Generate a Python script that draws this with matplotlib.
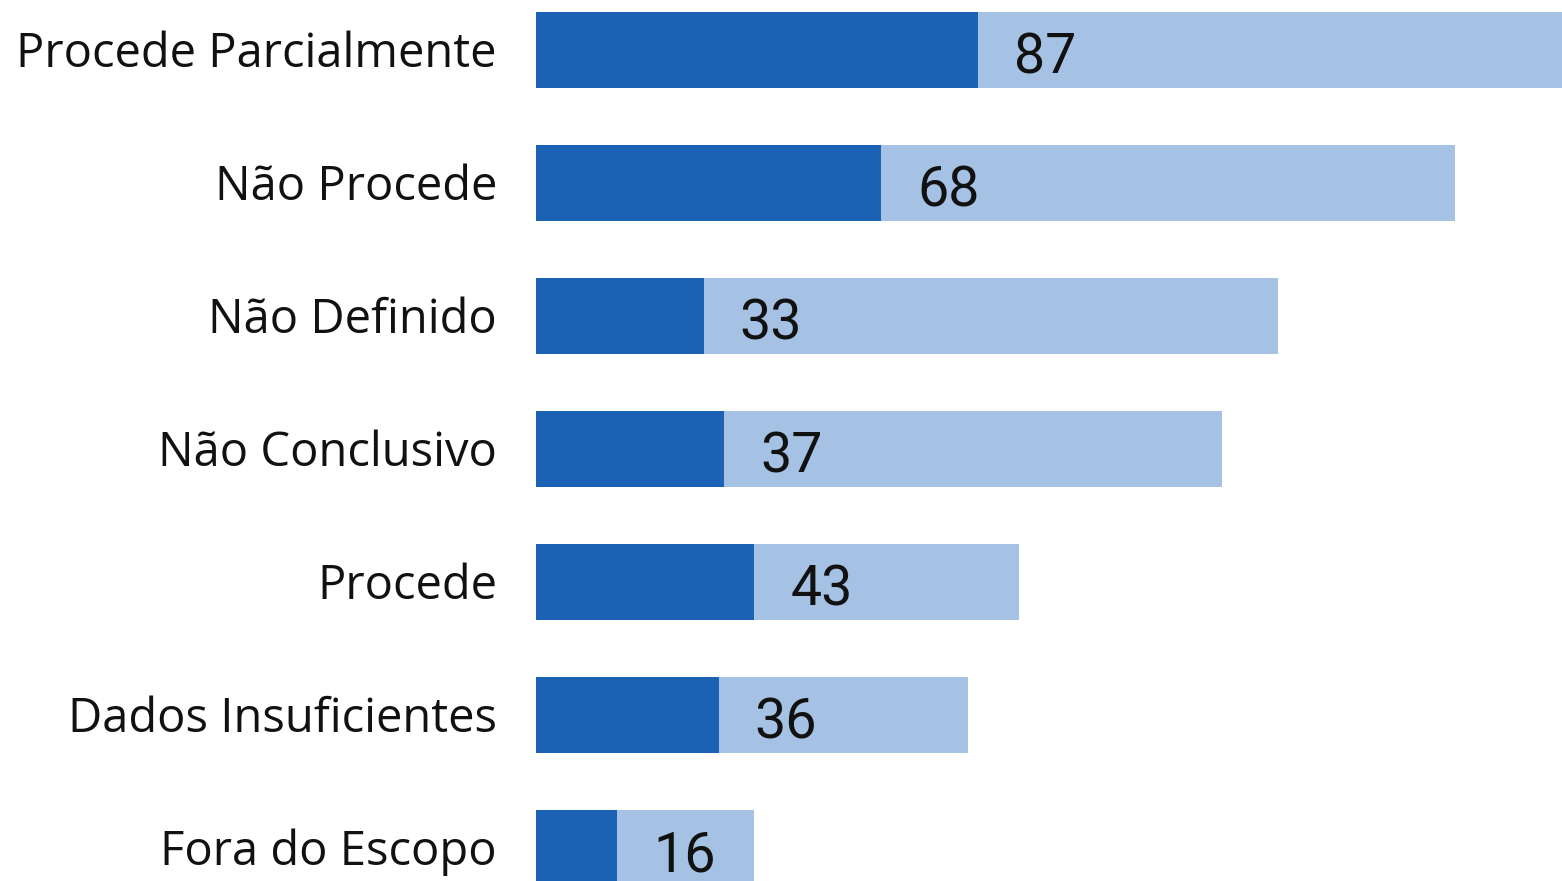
import matplotlib
matplotlib.use("Agg")
import matplotlib.pyplot as plt

categories = ["Procede Parcialmente", "Não Procede", "Não Definido", "Não Conclusivo",
              "Procede", "Dados Insuficientes", "Fora do Escopo"]
values = [87, 68, 33, 37, 43, 36, 16]
totals = [205, 181, 146, 135, 95, 85, 43]

DARK = "#1C62B4"
LIGHT = "#A5C1E3"

W, H = 1562, 881
fig = plt.figure(figsize=(W / 100, H / 100), dpi=100)
ax = fig.add_axes([536 / W, 0, 1 - 536 / W, 1])

y = list(range(len(categories)))
ax.barh(y, totals, height=0.571, color=LIGHT, edgecolor="none")
ax.barh(y, values, height=0.571, color=DARK, edgecolor="none")

ax.set_xlim(0, 202)
ax.set_ylim(6.248, -0.376)
ax.axis("off")

px = 202 / (W - 536)  # data units per pixel
py = 1 / 133.0
labels = []
for yi, v, c in zip(y, values, categories):
    ax.text(v + 36 * px, yi + 23 * py, str(v), ha="left", va="baseline",
            fontsize=40, family="Roboto", color="#111111")
    t = ax.text(-39 * px, yi + 17 * py, c, ha="right", va="baseline", fontsize=36,
                family="Open Sans", color="#111111", clip_on=False)
    labels.append(t)

# fit label font so the widest label spans ~481 px
fig.canvas.draw()
r = fig.canvas.get_renderer()
wmax = max(t.get_window_extent(r).width for t in labels)
fs = 36 * 481 / wmax
for t in labels:
    t.set_fontsize(fs)

fig.savefig("out.png", dpi=100)
